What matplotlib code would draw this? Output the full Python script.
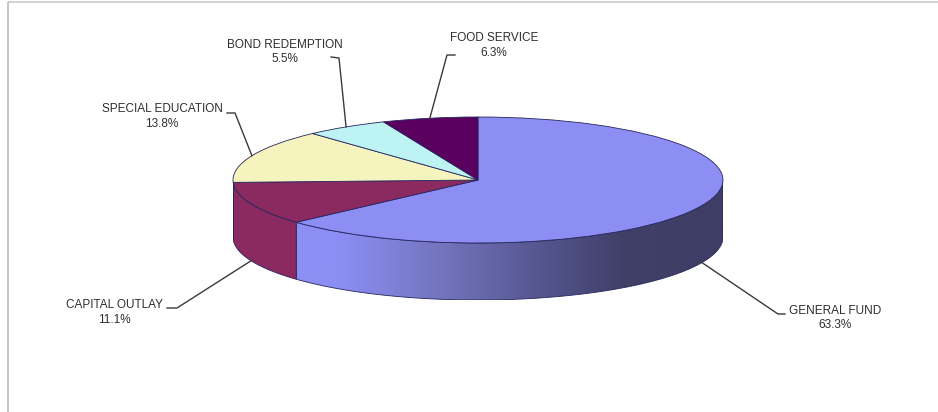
import numpy as np
import matplotlib
matplotlib.use("Agg")
import matplotlib.pyplot as plt
from matplotlib.colors import LinearSegmentedColormap
from matplotlib.patches import Polygon

# Budget shares by fund, clockwise from twelve o'clock
funds = ["GENERAL FUND", "CAPITAL OUTLAY", "SPECIAL EDUCATION", "BOND REDEMPTION", "FOOD SERVICE"]
shares = [63.3, 11.1, 13.8, 5.5, 6.3]
top_colors = ["#8C8EF4", "#8B2A60", "#F6F4BE", "#BDF3F3", "#5A005F"]
wall_colors = [None, "#8B2A60", "#F6F4BE", "#BDF3F3", "#5A005F"]
edge_color = "#26265E"

# Leader routing: elbow and hook end in pixels, then label centre
elbows = [(778, 314), (177, 308), (235, 113), (339, 58), (447, 55)]
hooks = [(785, 314), (167, 308), (227, 113), (331, 57), (455, 55)]
label_centres = [(835, 318), (114.5, 312.5), (162, 116.5), (284.5, 52), (494, 45.5)]

W, H = 938, 412
CX, CY, RX, RY, DEPTH = 478, 180, 245, 63, 57

plt.rcParams["font.family"] = ["Liberation Sans", "DejaVu Sans"]
fig = plt.figure(figsize=(W / 100, H / 100), dpi=100, facecolor="white")

# Pie axes: one unit of x is RX pixels and one unit of y is RY pixels,
# so the circular pie is squashed into the tilted ellipse.
depth = DEPTH / RY
bottom_px = CY + RY + DEPTH
ax = fig.add_axes([(CX - RX) / W, 1 - bottom_px / H, 2 * RX / W, (2 * RY + DEPTH) / H])
wedges, _ = ax.pie(
    shares, colors=top_colors, startangle=90, counterclock=False, radius=1,
    wedgeprops={"edgecolor": edge_color, "linewidth": 0.6, "zorder": 5},
)
ax.set_aspect("auto")
ax.set_xlim(-1, 1)
ax.set_ylim(-1 - depth, 1)
ax.axis("off")


def wall_outline(a0, a1):
    t = np.radians(np.linspace(a0, a1, 120))
    x, y = np.cos(t), np.sin(t)
    return np.column_stack([np.r_[x, x[::-1]], np.r_[y, y[::-1] - depth]])


# Rim of the disc: only the arc on the front half is visible
for wedge, colour in zip(wedges, wall_colors):
    a0, a1 = max(wedge.theta1, -180), min(wedge.theta2, 0)
    if a1 <= a0:
        continue
    outline = wall_outline(a0, a1)
    if colour is None:
        ramp = LinearSegmentedColormap.from_list(
            "rim",
            [(0, "#8C8EF4"), (0.1, "#8C8EF4"), (0.18, "#8486E2"), (0.376, "#6E70B6"),
             (0.57, "#555690"), (0.766, "#404068"), (1, "#3D3D66")],
        )
        lo, hi = outline[:, 0].min(), outline[:, 0].max()
        img = ax.imshow(
            np.linspace(0, 1, 400)[None, :], cmap=ramp, aspect="auto",
            extent=(lo, hi, -1 - depth, 1), zorder=2, interpolation="bilinear",
        )
        clip = Polygon(outline, closed=True, facecolor="none", edgecolor=edge_color, linewidth=0.6, zorder=3)
        ax.add_patch(clip)
        img.set_clip_path(clip)
    else:
        ax.add_patch(Polygon(outline, closed=True, facecolor=colour, edgecolor=edge_color, linewidth=0.6, zorder=3))
ax.set_xlim(-1, 1)
ax.set_ylim(-1 - depth, 1)

# Overlay in pixel coordinates for the frame, leaders and labels
ov = fig.add_axes([0, 0, 1, 1], facecolor="none")
ov.set_xlim(0, W)
ov.set_ylim(H, 0)
ov.axis("off")
ov.plot([8, W], [2, 2], color="#cfcfcf", lw=1.3, solid_capstyle="butt")
ov.plot([8, 8], [2, H], color="#b4b4b4", lw=1.1, solid_capstyle="butt")

for wedge, name, share, elbow, hook, centre in zip(wedges, funds, shares, elbows, hooks, label_centres):
    mid = np.radians((wedge.theta1 + wedge.theta2) / 2)
    sx = CX + RX * np.cos(mid)
    sy = CY - RY * np.sin(mid)
    if np.sin(mid) < 0:
        sy += DEPTH
    ov.plot([sx, elbow[0], hook[0]], [sy, elbow[1], hook[1]], color="#3a3a3a", lw=1.0,
            solid_joinstyle="miter")
    ov.text(centre[0], centre[1], f"{name}\n{share:.1f}%", ha="center", va="center",
            fontsize=8.5, color="#2e2e2e", linespacing=1.28)

fig.savefig("out.png", dpi=100)
